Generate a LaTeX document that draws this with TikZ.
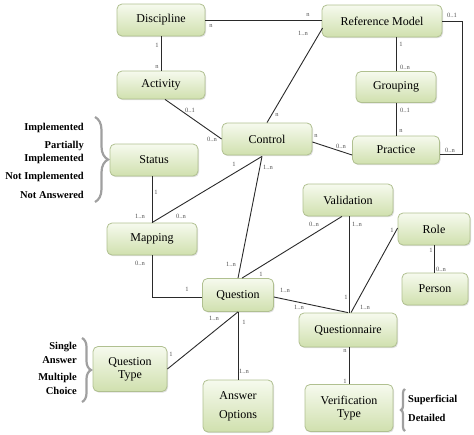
\documentclass[tikz,border=0pt]{standalone}
\usepackage{fontspec}
\setmainfont{Liberation Serif}
\usetikzlibrary{shadows,calc,decorations.pathreplacing}
\definecolor{boxborder}{HTML}{B0C090}
\definecolor{boxtop}{HTML}{F6FAEE}
\definecolor{boxbot}{HTML}{D0E0AE}
\definecolor{linec}{HTML}{2A2A2A}
\definecolor{lblc}{HTML}{555555}
\definecolor{bracec}{HTML}{A0A0A0}
\begin{document}
\begin{tikzpicture}[x=1pt,y=-1pt,
 ent/.style={draw=boxborder, line width=0.8pt, rounded corners=5pt, top color=boxtop, bottom color=boxbot,
   drop shadow={opacity=0.25,shadow xshift=1pt,shadow yshift=-1.2pt},
   font=\fontsize{12}{13}\selectfont, align=center, inner sep=0pt},
 conn/.style={draw=linec, line width=0.9pt},
 card/.style={font=\fontsize{6.5}{7}\selectfont, text=lblc, inner sep=0pt},
 opt/.style={font=\bfseries\fontsize{10.5}{11}\selectfont, inner sep=0pt},
 brc/.style={draw=bracec, line width=2.2pt, decorate, decoration={brace, amplitude=#1}},
]
\useasboundingbox (0,0) rectangle (474,434);

% entities
\node[ent, minimum width=88pt, minimum height=32pt] (disc) at (161,20) {Discipline};
\node[ent, minimum width=88pt, minimum height=28pt] (act) at (161,85) {Activity};
\node[ent, minimum width=120pt, minimum height=32pt] (ref) at (382,21) {Reference Model};
\node[ent, minimum width=80pt, minimum height=31pt] (grp) at (396,87) {Grouping};
\node[ent, minimum width=87pt, minimum height=28pt] (prac) at (396,150) {Practice};
\node[ent, minimum width=90pt, minimum height=32pt] (ctrl) at (267,139) {Control};
\node[ent, minimum width=88pt, minimum height=32pt] (stat) at (154,160) {Status};
\node[ent, minimum width=90pt, minimum height=32pt] (map) at (152,239) {Mapping};
\node[ent, minimum width=71pt, minimum height=33pt] (ques) at (238,295) {Question};
\node[ent, minimum width=90pt, minimum height=32pt] (val) at (348,200) {Validation};
\node[ent, minimum width=72pt, minimum height=32pt] (role) at (434,229) {Role};
\node[ent, minimum width=66pt, minimum height=32pt] (pers) at (435,289) {Person};
\node[ent, minimum width=98pt, minimum height=34pt] (qnaire) at (348,330) {Questionnaire};
\node[ent, minimum width=88pt, minimum height=47pt] (vtype) at (349,408) {Verification\\Type};
\node[ent, minimum width=74pt, minimum height=45pt] (qtype) at (130,369) {Question\\Type};
\node[ent, minimum width=70pt, minimum height=52pt, font=\fontsize{12}{19}\selectfont] (ans) at (238,406) {Answer\\Options};

% connectors
\draw[conn] (disc.east) -- (disc.east -| ref.west);
\draw[conn] (disc.south) -- (act.north);
\draw[conn] ($(act.south)+(4,0)$) -- (ctrl.west);
\draw[conn] ($(ref.west)+(1,7)$) -- (ctrl.north);
\draw[conn] (ref.south -| grp.north) -- (grp.north);
\draw[conn] (grp.south) -- (prac.north);
\draw[conn] (ref.east) -- ++(20,0) |- ($(prac.east)+(0,4)$);
\draw[conn] ($(ctrl.east)+(0,3)$) -- ($(prac.west)+(0,5)$);
\draw[conn] (stat.south -| map.north) -- (map.north);
\draw[conn] ($(ctrl.south)+(-5,1)$) -- (map.north);
\draw[conn] ($(ctrl.south)+(-5,1)$) -- (ques.north);
\draw[conn] (map.south) |- ($(ques.west)+(0,2)$);
\draw[conn] ($(ques.north)+(4,0)$) -- ($(val.south)+(-6,0)$);
\draw[conn] ($(val.south)+(1,0)$) -- ($(qnaire.north)+(1,0)$);
\draw[conn] ($(role.west)+(0,-1)$) -- ($(qnaire.north)+(3,0)$);
\draw[conn] ($(ques.east)+(0,2)$) -- (qnaire.north);
\draw[conn] (role.south) -- (role.south |- pers.north);
\draw[conn] (ques.south) -- (qtype.east);
\draw[conn] (ques.south) -- (ans.north);
\draw[conn] ($(qnaire.south)+(1,0)$) -- ($(vtype.north)+(0,0)$);

% cardinalities
\node[card] (c1) at (211,26) {n};
\node[card] (c2) at (308,15) {n};
\node[card] (c3) at (157,45) {1};
\node[card] (c4) at (157,67) {n};
\node[card] (c5) at (190,110) {0..1};
\node[card] (c6) at (212,139) {0..n};
\node[card] (c7) at (303,33) {1..n};
\node[card] (c8) at (277,115) {n};
\node[card] (c9) at (401,44) {1};
\node[card] (c10) at (405,67) {0..n};
\node[card] (c11) at (405,110) {0..1};
\node[card] (c12) at (401,131) {n};
\node[card] (c13) at (452,15) {0..1};
\node[card] (c14) at (450,150) {0..n};
\node[card] (c15) at (316,136) {n};
\node[card] (c16) at (341,146) {0..n};
\node[card] (c17) at (234,164) {1};
\node[card] (c18) at (268,167) {1..n};
\node[card] (c19) at (156,192) {1};
\node[card] (c20) at (140,216) {1..n};
\node[card] (c21) at (181,216) {0..n};
\node[card] (c22) at (140,263) {0..n};
\node[card] (c23) at (187,289) {1};
\node[card] (c24) at (231,264) {1..n};
\node[card] (c25) at (261,274) {1};
\node[card] (c26) at (314,224) {0..n};
\node[card] (c27) at (357,224) {1..n};
\node[card] (c28) at (392,230) {1};
\node[card] (c29) at (365,307) {1..n};
\node[card] (c30) at (285,290) {1..n};
\node[card] (c31) at (299,307) {1..n};
\node[card] (c32) at (346,297) {1};
\node[card] (c33) at (431,250) {1};
\node[card] (c34) at (441,269) {0..n};
\node[card] (c35) at (214,318) {1..n};
\node[card] (c36) at (171,354) {1};
\node[card] (c37) at (244,322) {1};
\node[card] (c38) at (244,371) {1..n};
\node[card] (c39) at (345,351) {n};
\node[card] (c40) at (345,381) {1};

% braces and options
\draw[brc=13pt] (95,117) -- (95,202);
\node[opt, anchor=east] (s1) at (84,128) {Implemented};
\node[opt, anchor=east] (s2) at (84,146) {Partially};
\node[opt, anchor=east] (s3) at (84,159) {Implemented};
\node[opt, anchor=east] (s4) at (84,177) {Not Implemented};
\node[opt, anchor=east] (s5) at (84,195) {Not Answered};

\draw[brc=9pt] (82,338) -- (82,402);
\node[opt, anchor=east] (t1) at (77,347) {Single};
\node[opt, anchor=east] (t2) at (77,360) {Answer};
\node[opt, anchor=east] (t3) at (77,378) {Multiple};
\node[opt, anchor=east] (t4) at (77,391) {Choice};

\draw[brc=4pt] (405,431) -- (405,389);
\node[opt, anchor=west] (v1) at (408,400) {Superficial};
\node[opt, anchor=west] (v2) at (408,418) {Detailed};
\end{tikzpicture}
\end{document}
